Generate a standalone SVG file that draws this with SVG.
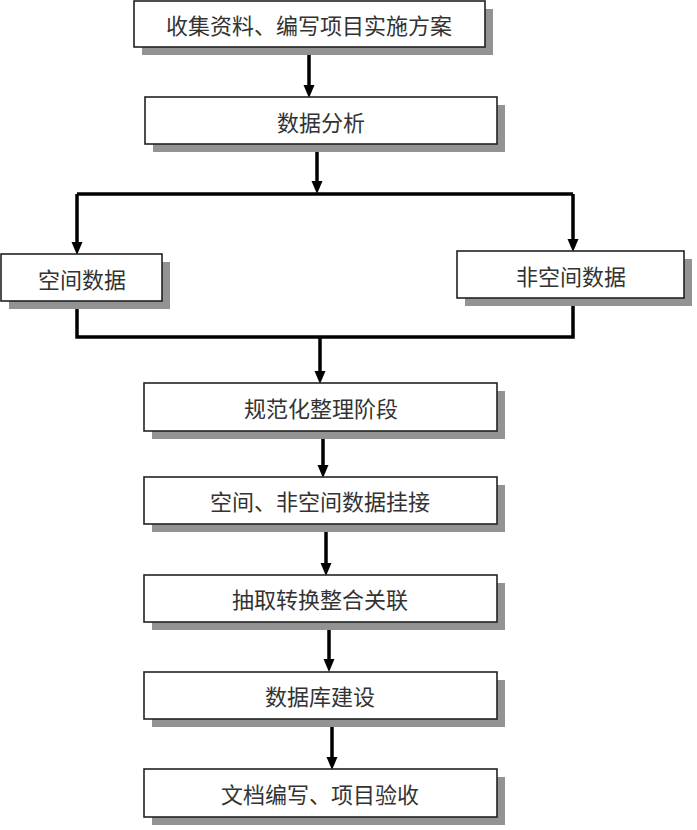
<svg xmlns="http://www.w3.org/2000/svg" width="697" height="830" viewBox="0 0 697 830">
<style>
.sh{fill:#939393}
.bx{fill:#fff;stroke:#222;stroke-width:1.6}
.t{font-family:"Noto Sans CJK SC","Noto Sans CJK TC",sans-serif;font-size:22px;fill:#333;text-anchor:middle;dominant-baseline:central}
.c{fill:none;stroke:#000;stroke-width:3.5}
</style>
<defs>
<marker id="ah" markerUnits="userSpaceOnUse" markerWidth="14" markerHeight="12" refX="4" refY="6" orient="auto">
<path d="M0,0.5 L13,6 L0,11.5 z" fill="#000"/>
</marker>
</defs>
<rect width="697" height="830" fill="#fff"/>
<g id="connectors">
<path class="c" d="M309,47 V89" marker-end="url(#ah)"/>
<path class="c" d="M317,144 V185" marker-end="url(#ah)"/>
<path class="c" d="M77,194 H573"/>
<path class="c" d="M77,194 V246" marker-end="url(#ah)"/>
<path class="c" d="M573,194 V243" marker-end="url(#ah)"/>
<path class="c" d="M77,301 V337 H573 V298"/>
<path class="c" d="M320,337 V375" marker-end="url(#ah)"/>
<path class="c" d="M323,431 V469" marker-end="url(#ah)"/>
<path class="c" d="M326,524 V567" marker-end="url(#ah)"/>
<path class="c" d="M329,622 V663" marker-end="url(#ah)"/>
<path class="c" d="M332,719 V761" marker-end="url(#ah)"/>
</g>
<g id="n1"><rect class="sh" x="142" y="9" width="351" height="46"/><rect class="bx" x="134" y="1" width="351" height="46"/><text class="t" x="309" y="24">收集资料、编写项目实施方案</text></g>
<g id="n2"><rect class="sh" x="153" y="105" width="352" height="47"/><rect class="bx" x="145" y="97" width="352" height="47"/><text class="t" x="321" y="121">数据分析</text></g>
<g id="n3"><rect class="sh" x="9" y="262" width="161" height="47"/><rect class="bx" x="1" y="254" width="161" height="47"/><text class="t" x="82" y="278">空间数据</text></g>
<g id="n4"><rect class="sh" x="465" y="259" width="227" height="47"/><rect class="bx" x="457" y="251" width="227" height="47"/><text class="t" x="571" y="275">非空间数据</text></g>
<g id="n5"><rect class="sh" x="152" y="391" width="353" height="48"/><rect class="bx" x="144" y="383" width="353" height="48"/><text class="t" x="321" y="407">规范化整理阶段</text></g>
<g id="n6"><rect class="sh" x="152" y="485" width="353" height="47"/><rect class="bx" x="144" y="477" width="353" height="47"/><text class="t" x="320" y="500">空间、非空间数据挂接</text></g>
<g id="n7"><rect class="sh" x="152" y="583" width="353" height="47"/><rect class="bx" x="144" y="575" width="353" height="47"/><text class="t" x="320" y="598">抽取转换整合关联</text></g>
<g id="n8"><rect class="sh" x="152" y="680" width="353" height="47"/><rect class="bx" x="144" y="672" width="353" height="47"/><text class="t" x="320" y="695">数据库建设</text></g>
<g id="n9"><rect class="sh" x="152" y="777" width="353" height="48"/><rect class="bx" x="144" y="769" width="353" height="48"/><text class="t" x="320" y="793">文档编写、项目验收</text></g>
</svg>
